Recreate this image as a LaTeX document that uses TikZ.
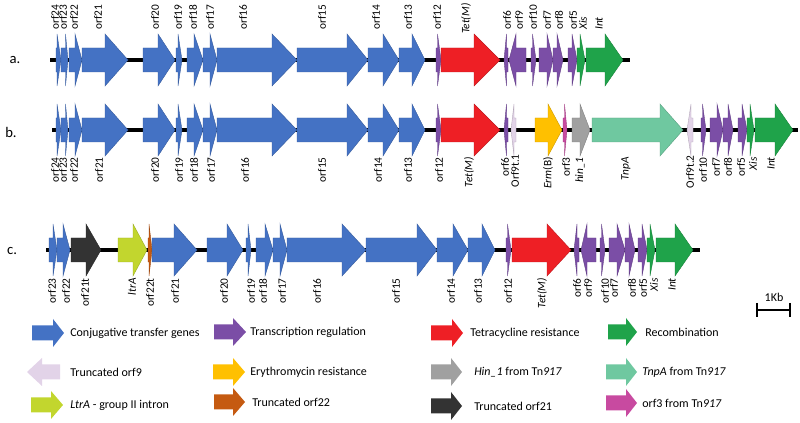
\documentclass[tikz,border=0pt]{standalone}
\usepackage{fontspec}
\setmainfont{Carlito}
\definecolor{cblue}{HTML}{4472C4}
\definecolor{cpurple}{HTML}{7B4EA6}
\definecolor{cred}{HTML}{EE1F25}
\definecolor{cgreen}{HTML}{1FA34A}
\definecolor{cpink}{HTML}{E2D3E8}
\definecolor{corange}{HTML}{FFC000}
\definecolor{cgrey}{HTML}{A0A0A0}
\definecolor{cteal}{HTML}{6FC8A0}
\definecolor{cdark}{HTML}{333333}
\definecolor{clime}{HTML}{C2D62E}
\definecolor{crust}{HTML}{C55A11}
\definecolor{cmagenta}{HTML}{C84AA0}
% gene arrow: start, head start, tip, y, colour
\newcommand{\gene}[5]{\filldraw[fill=#5, draw=#5!80!black, line width=0.3pt] (#1,#4-12) -- (#2,#4-12) -- (#2,#4-26) -- (#3,#4) -- (#2,#4+26) -- (#2,#4+12) -- (#1,#4+12) -- cycle;}
\newcommand{\keyarrow}[5]{\fill[#5] (#1,#4-7.5) -- (#2,#4-7.5) -- (#2,#4-14) -- (#3,#4) -- (#2,#4+14) -- (#2,#4+7.5) -- (#1,#4+7.5) -- cycle;}
\tikzset{
  backbone/.style={line width=2.6pt, black},
  uplab/.style={rotate=90, anchor=west, inner sep=0pt, font=\fontsize{8.5}{9}\selectfont},
  downlab/.style={rotate=90, anchor=east, inner sep=0pt, font=\fontsize{8.5}{9}\selectfont},
  rowlab/.style={font=\fontsize{11}{12}\selectfont},
  keytext/.style={anchor=west, inner sep=0pt, font=\fontsize{9}{10}\selectfont}
}
\begin{document}
\begin{tikzpicture}[x=0.75pt,y=-0.75pt]
\useasboundingbox (0,0) rectangle (800,423);

% a.
\node[rowlab] (rowa) at (15,60) {a.};
\draw[backbone] (50,60) -- (630,60);
\gene{56}{57}{61}{60}{cblue}
\gene{61}{65.5}{68}{60}{cblue}
\gene{69}{75}{82}{60}{cblue}
\gene{82}{105}{128}{60}{cblue}
\gene{143}{158}{175}{60}{cblue}
\gene{176}{178}{182}{60}{cblue}
\gene{187}{194}{203}{60}{cblue}
\gene{203}{210}{217}{60}{cblue}
\gene{217}{272}{297}{60}{cblue}
\gene{297}{347}{368}{60}{cblue}
\gene{368}{383}{399}{60}{cblue}
\gene{399}{412}{425}{60}{cblue}
\gene{436}{437.5}{441}{60}{cpurple}
\gene{441}{474}{500}{60}{cred}
\gene{508}{506.5}{504}{60}{cpurple}
\gene{526}{516}{509}{60}{cpurple}
\gene{531}{532.5}{536}{60}{cpurple}
\gene{539}{547}{553}{60}{cpurple}
\gene{553}{557}{563}{60}{cpurple}
\gene{568}{572}{577}{60}{cpurple}
\gene{577}{580}{585}{60}{cgreen}
\gene{586}{605}{623}{60}{cgreen}
\node[uplab] (a-orf24) at (55,30) {orf24};
\node[uplab] (a-orf23) at (63,30) {orf23};
\node[uplab] (a-orf22) at (74,30) {orf22};
\node[uplab] (a-orf21) at (98,30) {orf21};
\node[uplab] (a-orf20) at (155,30) {orf20};
\node[uplab] (a-orf19) at (178,30) {orf19};
\node[uplab] (a-orf18) at (193,30) {orf18};
\node[uplab] (a-orf17) at (210,30) {orf17};
\node[uplab] (a-orf16) at (243,30) {orf16};
\node[uplab] (a-orf15) at (322,30) {orf15};
\node[uplab] (a-orf14) at (376,30) {orf14};
\node[uplab] (a-orf13) at (408,30) {orf13};
\node[uplab] (a-orf12) at (437,30) {orf12};
\node[uplab] (a-tetm) at (466,34) {\textit{Tet(M)}};
\node[uplab] (a-orf6) at (507,30) {orf6};
\node[uplab] (a-orf9) at (519,30) {orf9};
\node[uplab] (a-orf10) at (533,30) {orf10};
\node[uplab] (a-orf7) at (547,30) {orf7};
\node[uplab] (a-orf8) at (559,30) {orf8};
\node[uplab] (a-orf5) at (573,30) {orf5};
\node[uplab] (a-xis) at (583,30) {\textit{Xis}};
\node[uplab] (a-int) at (599,30) {\textit{Int}};

% b.
\node[rowlab] (rowb) at (11,132) {b.};
\draw[backbone] (52,130) -- (798,130);
\gene{56}{57}{61}{130}{cblue}
\gene{61}{65.5}{68}{130}{cblue}
\gene{69}{75}{82}{130}{cblue}
\gene{82}{105}{128}{130}{cblue}
\gene{143}{158}{175}{130}{cblue}
\gene{176}{178}{182}{130}{cblue}
\gene{187}{194}{203}{130}{cblue}
\gene{203}{210}{217}{130}{cblue}
\gene{217}{272}{297}{130}{cblue}
\gene{297}{347}{368}{130}{cblue}
\gene{368}{383}{399}{130}{cblue}
\gene{399}{412}{425}{130}{cblue}
\gene{436}{437.5}{441}{130}{cpurple}
\gene{441}{474}{500}{130}{cred}
\gene{508}{506.5}{504}{130}{cpurple}
\gene{516}{514}{511}{130}{cpink}
\gene{535}{548}{562}{130}{corange}
\gene{563}{564.5}{567}{130}{cmagenta}
\gene{572}{580}{590}{130}{cgrey}
\gene{592}{660}{683}{130}{cteal}
\gene{693}{691}{687}{130}{cpink}
\gene{701}{702.5}{706}{130}{cpurple}
\gene{710}{717}{723}{130}{cpurple}
\gene{723}{728}{733}{130}{cpurple}
\gene{738}{742}{747}{130}{cpurple}
\gene{747}{750}{754}{130}{cgreen}
\gene{755}{775}{793}{130}{cgreen}
\node[downlab] (b-orf24) at (55,157) {orf24};
\node[downlab] (b-orf23) at (63,157) {orf23};
\node[downlab] (b-orf22) at (74,157) {orf22};
\node[downlab] (b-orf21) at (99,157) {orf21};
\node[downlab] (b-orf20) at (155,157) {orf20};
\node[downlab] (b-orf19) at (179,157) {orf19};
\node[downlab] (b-orf18) at (194,157) {orf18};
\node[downlab] (b-orf17) at (211,157) {orf17};
\node[downlab] (b-orf16) at (245,157) {orf16};
\node[downlab] (b-orf15) at (322,157) {orf15};
\node[downlab] (b-orf14) at (378,157) {orf14};
\node[downlab] (b-orf13) at (408,157) {orf13};
\node[downlab] (b-orf12) at (439,157) {orf12};
\node[downlab] (b-tetm) at (469,157) {\textit{Tet(M)}};
\node[downlab] (b-orf6) at (505,157) {orf6};
\node[downlab] (b-orf9t1) at (515,154) {Orf9t.1};
\node[downlab] (b-ermb) at (548,157) {\textit{Erm}(B)};
\node[downlab] (b-orf3) at (566,157) {orf3};
\node[downlab] (b-hin) at (580,157) {\textit{hin\_1}};
\node[downlab] (b-tnpa) at (626,157) {\textit{TnpA}};
\node[downlab] (b-orf9t2) at (690,155) {Orf9t.2};
\node[downlab] (b-orf10) at (703,157) {orf10};
\node[downlab] (b-orf7) at (716,157) {orf7};
\node[downlab] (b-orf8) at (728,157) {orf8};
\node[downlab] (b-orf5) at (741,157) {orf5};
\node[downlab] (b-xis) at (753,157) {\textit{Xis}};
\node[downlab] (b-int) at (771,157) {\textit{Int}};

% c.
\node[rowlab] (rowc) at (12,251) {c.};
\draw[backbone] (46,250) -- (700,250);
\gene{49}{53}{57}{250}{cblue}
\gene{57}{63}{70}{250}{cblue}
\gene{71}{86}{101}{250}{cdark}
\gene{118}{133}{147}{250}{clime}
\gene{148}{149}{152}{250}{crust}
\gene{152}{174}{197}{250}{cblue}
\gene{207}{227}{243}{250}{cblue}
\gene{246}{248}{251}{250}{cblue}
\gene{256}{265}{273}{250}{cblue}
\gene{273}{280}{287}{250}{cblue}
\gene{287}{342}{366}{250}{cblue}
\gene{366}{417}{437}{250}{cblue}
\gene{437}{453}{468}{250}{cblue}
\gene{468}{482}{495}{250}{cblue}
\gene{506}{507.5}{511}{250}{cpurple}
\gene{512}{547}{571}{250}{cred}
\gene{579}{577}{574}{250}{cpurple}
\gene{596}{587}{581}{250}{cpurple}
\gene{600}{601.5}{605}{250}{cpurple}
\gene{609}{617}{625}{250}{cpurple}
\gene{625}{629}{635}{250}{cpurple}
\gene{638}{642}{647}{250}{cpurple}
\gene{647}{650}{655}{250}{cgreen}
\gene{656}{675}{693}{250}{cgreen}
\node[downlab] (c-orf23) at (52,278) {orf23};
\node[downlab] (c-orf22) at (66,278) {orf22};
\node[downlab] (c-orf21t) at (85,278) {orf21t};
\node[downlab] (c-ltra) at (132,278) {\textit{ltrA}};
\node[downlab] (c-orf22t) at (150,278) {orf22t};
\node[downlab] (c-orf21) at (175,278) {orf21};
\node[downlab] (c-orf20) at (224,278) {orf20};
\node[downlab] (c-orf19) at (251,278) {orf19};
\node[downlab] (c-orf18) at (263,278) {orf18};
\node[downlab] (c-orf17) at (282,278) {orf17};
\node[downlab] (c-orf16) at (317,278) {orf16};
\node[downlab] (c-orf15) at (396,278) {orf15};
\node[downlab] (c-orf14) at (451,278) {orf14};
\node[downlab] (c-orf13) at (478,278) {orf13};
\node[downlab] (c-orf12) at (508,278) {orf12};
\node[downlab] (c-tetm) at (542,278) {\textit{Tet(M)}};
\node[downlab] (c-orf6) at (577,278) {orf6};
\node[downlab] (c-orf9) at (588,278) {orf9};
\node[downlab] (c-orf10) at (605,278) {orf10};
\node[downlab] (c-orf7) at (614,278) {orf7};
\node[downlab] (c-orf8) at (632,278) {orf8};
\node[downlab] (c-orf5) at (643,278) {orf5};
\node[downlab] (c-xis) at (654,278) {\textit{Xis}};
\node[downlab] (c-int) at (672,278) {\textit{Int}};

% scale bar
\node[font=\fontsize{9}{10}\selectfont] (kb) at (774,297) {1Kb};
\draw[line width=1.2pt] (757,303) -- (757,317);
\draw[line width=1.2pt] (790,303) -- (790,317);
\draw[line width=1.2pt] (757,310) -- (790,310);

% key
\keyarrow{32}{53}{64}{333}{cblue}
\node[keytext] (k-conj) at (70,333) {Conjugative transfer genes};
\keyarrow{214}{233}{246}{332}{cpurple}
\node[keytext] (k-reg) at (250,332) {Transcription regulation};
\keyarrow{431}{452}{463}{333}{cred}
\node[keytext] (k-tet) at (470,333) {Tetracycline resistance};
\keyarrow{608}{626}{637}{332}{cgreen}
\node[keytext] (k-rec) at (645,332) {Recombination};
\keyarrow{60}{42}{27}{372}{cpink}
\node[keytext] (k-orf9) at (70,372) {Truncated orf9};
\keyarrow{213}{233}{245}{372}{corange}
\node[keytext] (k-ery) at (250,372) {Erythromycin resistance};
\keyarrow{431}{451}{462}{372}{cgrey}
\node[keytext] (k-hin) at (474,372) {\textit{Hin\_1} from Tn\textit{917}};
\keyarrow{606}{626}{637}{372}{cteal}
\node[keytext] (k-tnpa) at (642,372) {\textit{TnpA} from Tn\textit{917}};
\keyarrow{31}{51}{63}{405}{clime}
\node[keytext] (k-ltra) at (70,405) {\textit{LtrA} - group II intron};
\keyarrow{214}{233}{245}{402}{crust}
\node[keytext] (k-orf22) at (252,402) {Truncated orf22};
\keyarrow{431}{451}{462}{406}{cdark}
\node[keytext] (k-orf21) at (474,406) {Truncated orf21};
\keyarrow{606}{626}{637}{403}{cmagenta}
\node[keytext] (k-orf3) at (642,403) {orf3 from Tn\textit{917}};
\end{tikzpicture}
\end{document}
